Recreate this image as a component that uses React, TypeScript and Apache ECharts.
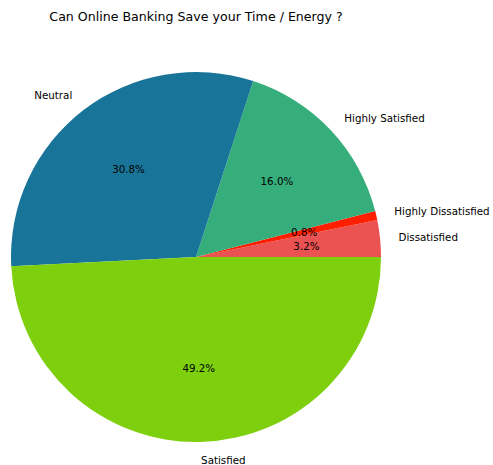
import React, { useEffect, useRef } from "react";
import * as echarts from "echarts";

const categories = ["Dissatisfied", "Highly Dissatisfied", "Highly Satisfied", "Neutral", "Satisfied"];
const counts = [8, 2, 40, 77, 123];
const colors = ["#EB5353", "#FF1E00", "#36AE7C", "#187498", "#7ED00F"];
const title = "Can Online Banking Save your Time / Energy ?";

export default function App() {
  const ref = useRef<HTMLDivElement>(null);
  useEffect(() => {
    if (!ref.current) return;
    const chart = echarts.init(ref.current, null, { renderer: "svg" });
    const R = 185;
    const center = [196, 257];
    const font = "DejaVu Sans";
    const total = counts.reduce((a, b) => a + b, 0);
    const data = categories.map((name, i) => ({ name, value: counts[i], itemStyle: { color: colors[i] } }));
    chart.setOption({
      animation: false,
      title: {
        text: title,
        left: 196,
        top: 10,
        padding: 0,
        textAlign: "center",
        textStyle: { fontFamily: font, fontSize: 12.6, fontWeight: "normal", color: "#000" },
      },
      series: [
        {
          type: "pie",
          radius: R,
          center,
          startAngle: 0,
          clockwise: false,
          avoidLabelOverlap: false,
          minShowLabelAngle: 0,
          silent: true,
          data,
          label: {
            show: true,
            position: "outside",
            formatter: "{b}",
            fontFamily: font,
            fontSize: 10.3,
            color: "#000",
            distanceToLabelLine: 0,
            alignTo: "none",
          },
          labelLine: { show: false, length: R * 0.1, length2: 0 },
          itemStyle: { borderWidth: 0 },
          emphasis: { disabled: true },
        },
        {
          type: "pie",
          radius: [0, 216],
          center,
          startAngle: 0,
          clockwise: false,
          avoidLabelOverlap: false,
          minShowLabelAngle: 0,
          silent: true,
          data: categories.map((name, i) => ({ name, value: counts[i] })),
          itemStyle: { color: "rgba(0,0,0,0)", borderWidth: 0 },
          label: {
            show: true,
            position: "inside",
            formatter: (p: any) => ((p.value / total) * 100).toFixed(1) + "%",
            fontFamily: font,
            fontSize: 10.3,
            color: "#000",
          },
          labelLine: { show: false },
          emphasis: { disabled: true },
        },
      ],
    });
    return () => chart.dispose();
  }, []);
  return <div ref={ref} style={{ position: "fixed", left: 0, top: 0, width: 493, height: 465, background: "#fff" }} />;
}
